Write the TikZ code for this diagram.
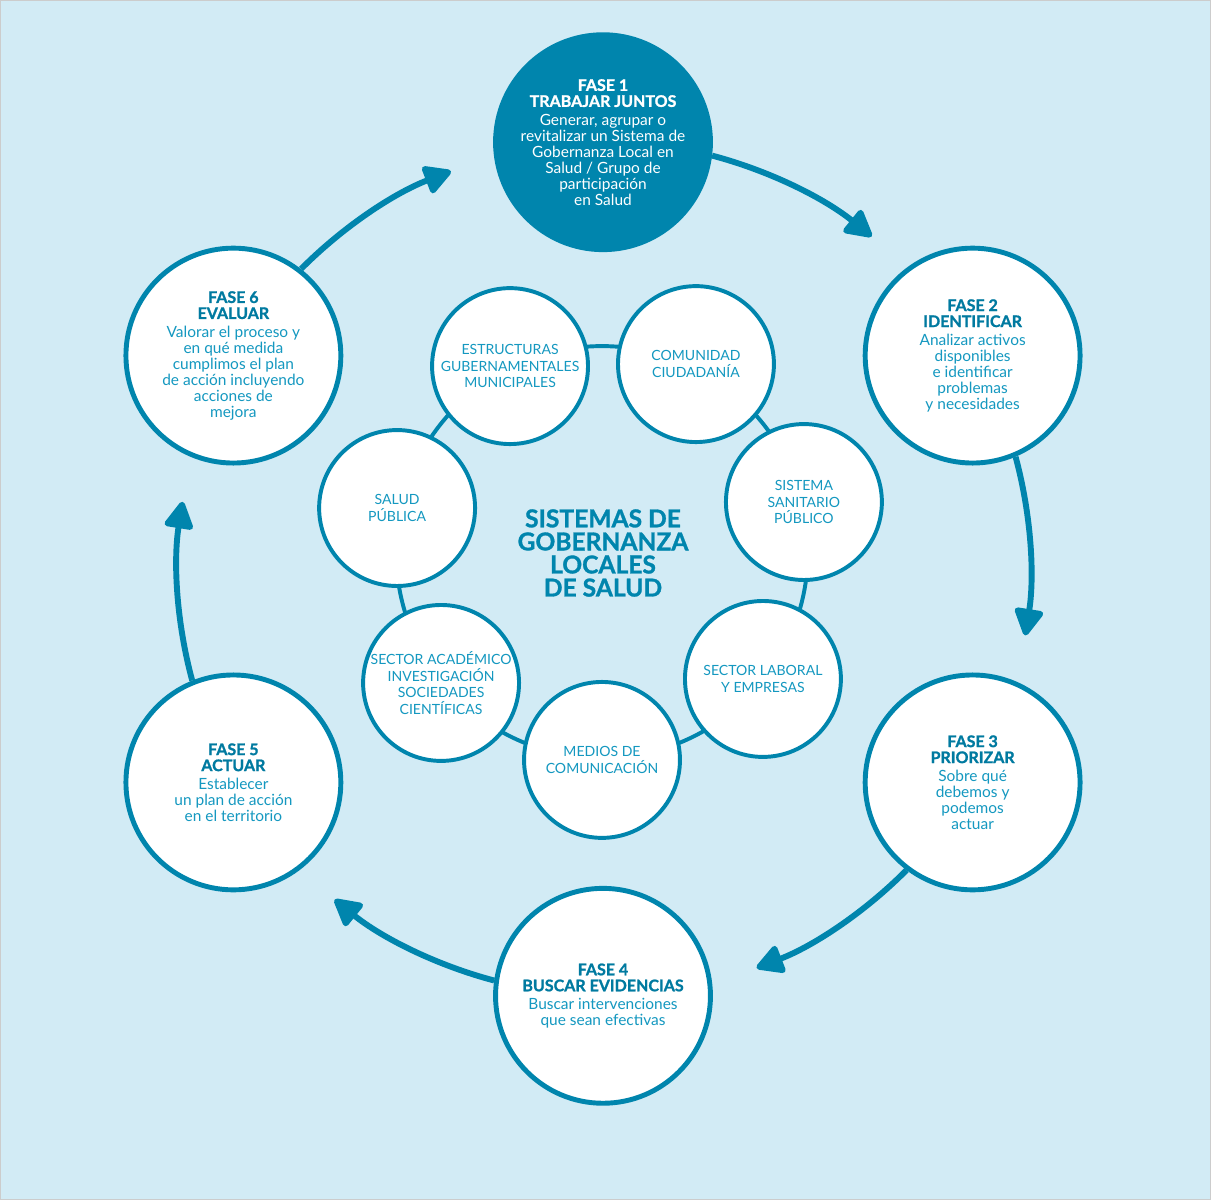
\documentclass[tikz,border=0pt]{standalone}
\usepackage{fontspec}
\setmainfont{Lato}
\newfontfamily\heavyfont{Lato}[BoldFeatures={FakeBold=1.2}]
\usepackage{tikz}
\usetikzlibrary{arrows.meta, positioning, calc}
\definecolor{primary}{RGB}{0, 133, 173}
\definecolor{secondary}{RGB}{0, 122, 160}
\definecolor{bodytext}{RGB}{20, 152, 192}
\definecolor{backdrop}{RGB}{210, 235, 245}
\tikzstyle{fase} = [circle, draw=primary, line width=3.5pt, fill=white, minimum size=5.375cm, inner sep=0pt, align=center, font=\fontsize{11}{11.4}\selectfont, text=bodytext]
\tikzstyle{actor} = [circle, draw=primary, line width=2.8pt, fill=white, minimum size=3.9cm, inner sep=0pt, align=center, font=\fontsize{10}{11.8}\selectfont, text=bodytext]
\tikzstyle{arrow} = [line width=4.2pt, draw=primary, line join=round, -{Triangle[length=7.5mm, width=7.8mm, round]}]
\newcommand{\headtext}[1]{{\heavyfont\bfseries\fontsize{11.4}{11.4}\selectfont #1}}
\newcommand{\head}[1]{{\color{secondary}\headtext{#1}}}
\newcommand{\cycR}{10.675}

\begin{document}
\begin{tikzpicture}
    % Background
    \fill[backdrop, draw=gray!40, line width=0.4pt] (0,0) rectangle (30.275,30);
    \useasboundingbox (0,0) rectangle (30.275,30);
    \coordinate (hub) at (15.075, 15.775);

    % Ring linking the actors
    \coordinate (ring) at (15.05, 16.2);
    \draw[primary, line width=2.8pt] (ring) circle (5.15);

    % Actors
    \node[actor] (estructuras) at (12.75, 20.85) {ESTRUCTURAS\\GUBERNAMENTALES\\MUNICIPALES};
    \node[actor] (comunidad) at (17.4, 20.9) {COMUNIDAD\\CIUDADANÍA};
    \node[actor] (sanitario) at (20.1, 17.45) {SISTEMA\\SANITARIO\\PÚBLICO};
    \node[actor] (laboral) at (19.075, 13.025) {SECTOR LABORAL\\Y EMPRESAS};
    \node[actor] (medios) at (15.05, 11.0) {MEDIOS DE\\COMUNICACIÓN};
    \node[actor] (academico) at (11.025, 12.925) {SECTOR ACADÉMICO\\INVESTIGACIÓN\\SOCIEDADES\\CIENTÍFICAS};
    \node[actor] (saludpub) at (9.925, 17.3) {SALUD\\PÚBLICA};

    % Title
    \node[align=center, text=primary, font=\fontsize{17.5}{16.4}\selectfont\heavyfont\bfseries] (titulo) at (15.075, 16.175) {SISTEMAS DE\\GOBERNANZA\\LOCALES\\DE SALUD};

    % Fase 1
    \node[fase, fill=primary, text=white, draw=primary] (f1) at ($(hub)+(90:\cycR)$) {\headtext{FASE 1}\\\headtext{TRABAJAR JUNTOS}\\[1.5pt]Generar, agrupar o\\revitalizar un Sistema de\\Gobernanza Local en\\Salud / Grupo de\\participación\\en Salud};

    % Fase 2
    \node[fase] (f2) at ($(hub)+(30:\cycR)$) {\head{FASE 2}\\\head{IDENTIFICAR}\\[1.5pt]Analizar activos\\disponibles\\e identificar\\problemas\\y necesidades};

    % Fase 3
    \node[fase] (f3) at ($(hub)+(-30:\cycR)$) {\head{FASE 3}\\\head{PRIORIZAR}\\[1.5pt]Sobre qué\\debemos y\\podemos\\actuar};

    % Fase 4
    \node[fase] (f4) at ($(hub)+(-90:\cycR)$) {\head{FASE 4}\\\head{BUSCAR EVIDENCIAS}\\[1.5pt]Buscar intervenciones\\que sean efectivas};

    % Fase 5
    \node[fase] (f5) at ($(hub)+(210:\cycR)$) {\head{FASE 5}\\\head{ACTUAR}\\[1.5pt]Establecer\\un plan de acción\\en el territorio};

    % Fase 6
    \node[fase] (f6) at ($(hub)+(150:\cycR)$) {\head{FASE 6}\\\head{EVALUAR}\\[1.5pt]Valorar el proceso y\\en qué medida\\cumplimos el plan\\de acción incluyendo\\acciones de\\mejora};

    % Cycle
    \draw[arrow] (f1.-7.4) arc[start angle=75.2, end angle=51, radius=\cycR];
    \draw[arrow] (f2.-67.4) arc[start angle=15.2, end angle=-9, radius=\cycR];
    \draw[arrow] (f3.-127.4) arc[start angle=-44.8, end angle=-69, radius=\cycR];
    \draw[arrow] (f4.172.6) arc[start angle=-104.8, end angle=-129, radius=\cycR];
    \draw[arrow] (f5.112.6) arc[start angle=195.2, end angle=171, radius=\cycR];
    \draw[arrow] (f6.52.6) arc[start angle=135.2, end angle=111, radius=\cycR];
\end{tikzpicture}
\end{document}
